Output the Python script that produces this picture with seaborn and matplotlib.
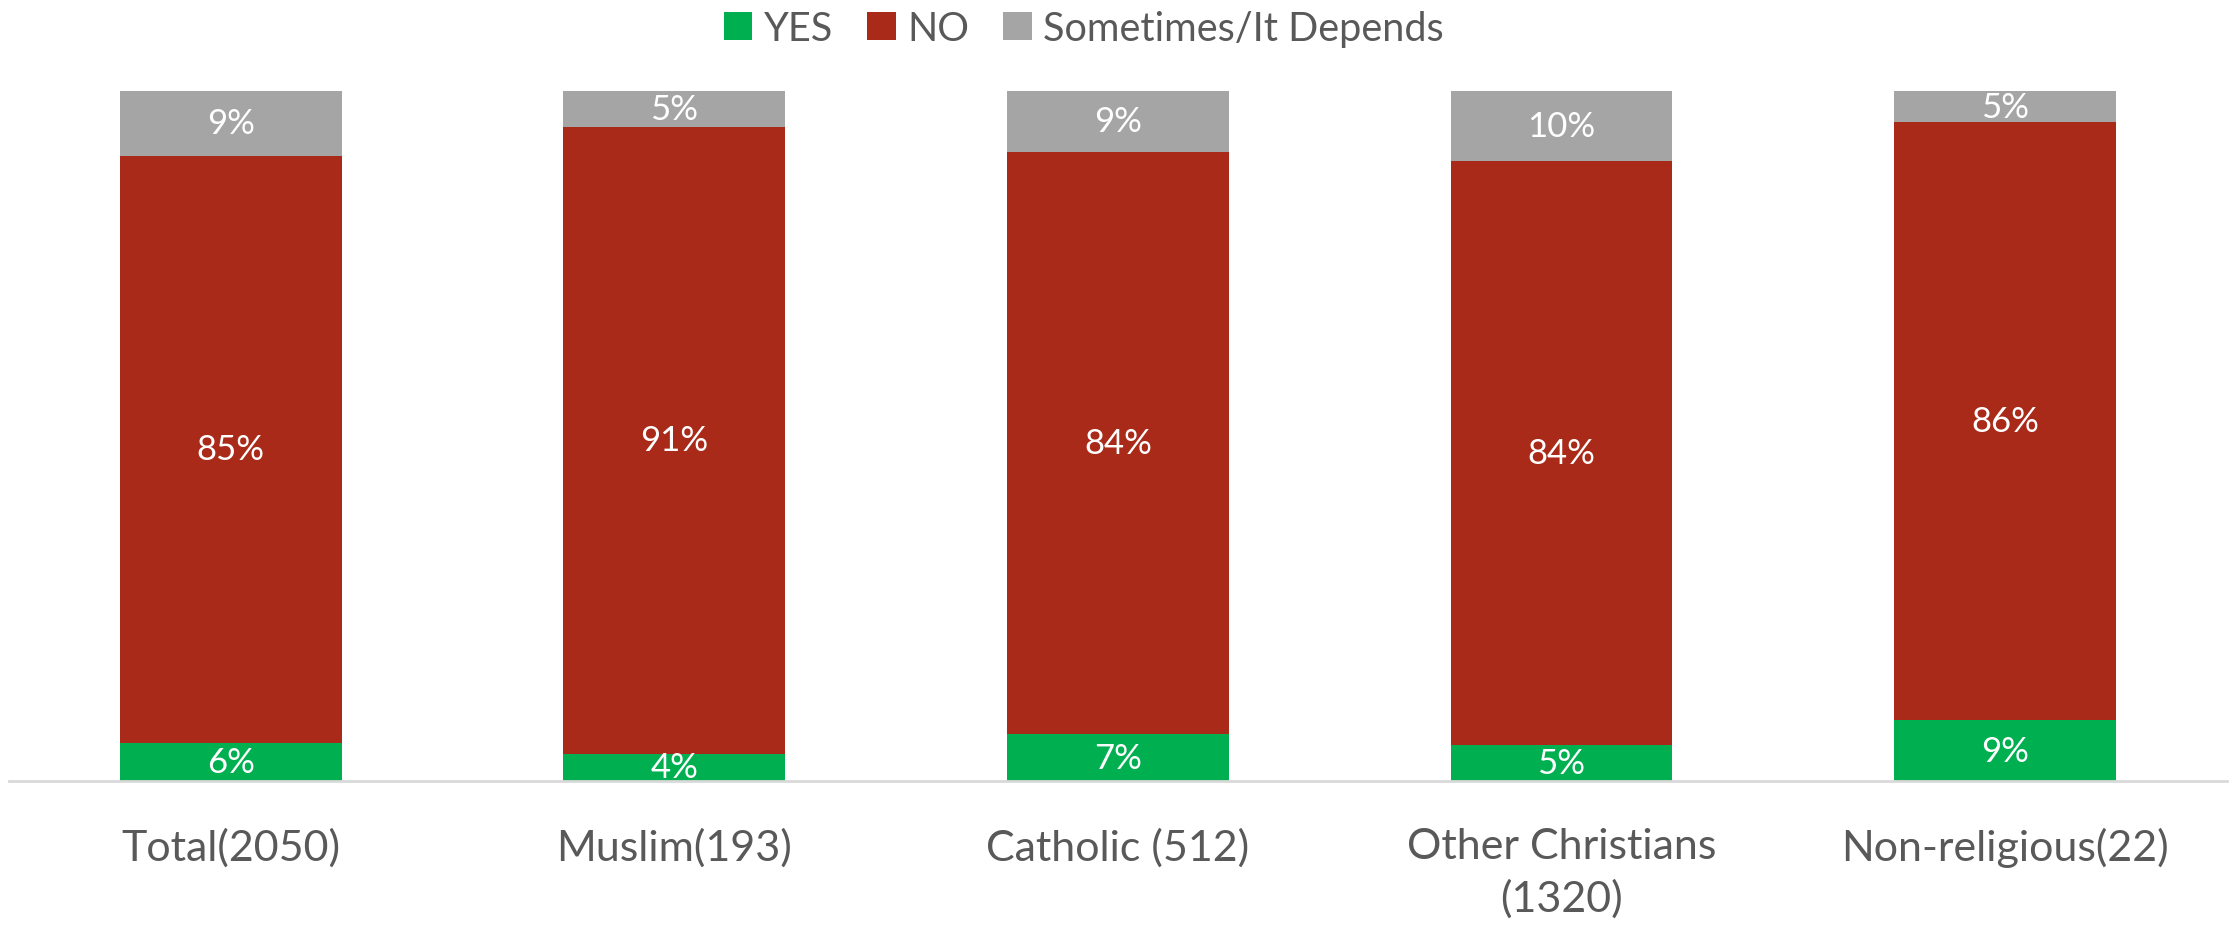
import matplotlib
matplotlib.use("Agg")
import matplotlib.pyplot as plt
import pandas as pd
import seaborn as sns

# values (percent of respondents)
groups = ["Total(2050)", "Muslim(193)", "Catholic (512)", "Other Christians\n(1320)", "Non-religious(22)"]
yes_vals = [5.6, 4.0, 6.8, 5.2, 8.9]
no_vals = [85.0, 90.8, 84.4, 84.6, 86.6]
dep_vals = [9.4, 5.2, 8.8, 10.2, 4.5]
yes_labels = ["6%", "4%", "7%", "5%", "9%"]
no_labels = ["85%", "91%", "84%", "84%", "86%"]
dep_labels = ["9%", "5%", "9%", "10%", "5%"]

GREEN = "#00B050"
RED = "#A92A18"
GREY = "#A5A5A5"
TEXT = "#595959"

sns.set_theme(style="white")
plt.rcParams["font.family"] = ["Lato", "DejaVu Sans"]

df = pd.DataFrame({"group": groups, "yes": yes_vals, "no": no_vals, "dep": dep_vals})
df["no_bottom"] = df["yes"]
df["dep_bottom"] = df["yes"] + df["no"]

fig, ax = plt.subplots(figsize=(22.29, 9.29), dpi=100)
fig.subplots_adjust(left=0.004, right=0.999, bottom=0.158, top=0.901)

series = [
    ("yes", None, GREEN, "YES", yes_labels),
    ("no", "no_bottom", RED, "NO", no_labels),
    ("dep", "dep_bottom", GREY, "Sometimes/It Depends", dep_labels),
]
for col, bcol, color, name, labels in series:
    kw = {} if bcol is None else {"bottom": df[bcol].values}
    sns.barplot(data=df, x="group", y=col, color=color, width=0.5, ax=ax,
                label=name, saturation=1, linewidth=0, **kw)
    ax.bar_label(ax.containers[-1], labels=labels, label_type="center",
                 color="white", fontsize=25)

ax.set_xlim(-0.5, 4.5)
ax.set_ylim(0, 100)
ax.set_xlabel("")
ax.set_ylabel("")
ax.set_yticks([])
for side in ("top", "left", "right"):
    ax.spines[side].set_visible(False)
ax.spines["bottom"].set_color("#D9D9D9")
ax.spines["bottom"].set_linewidth(2)
ax.tick_params(axis="x", length=0, pad=33, labelsize=31, labelcolor=TEXT)
for lbl in ax.get_xticklabels():
    lbl.set_linespacing(1.4)

handles, names = ax.get_legend_handles_labels()
if ax.legend_:
    ax.legend_.remove()
fig.legend(handles, names, loc="upper center", bbox_to_anchor=(0.4863, 1.027), ncol=3,
           frameon=False, fontsize=28.5, labelcolor=TEXT, handlelength=0.72,
           handleheight=0.72, handletextpad=0.3, columnspacing=0.85)

fig.savefig("out.png", dpi=100)
